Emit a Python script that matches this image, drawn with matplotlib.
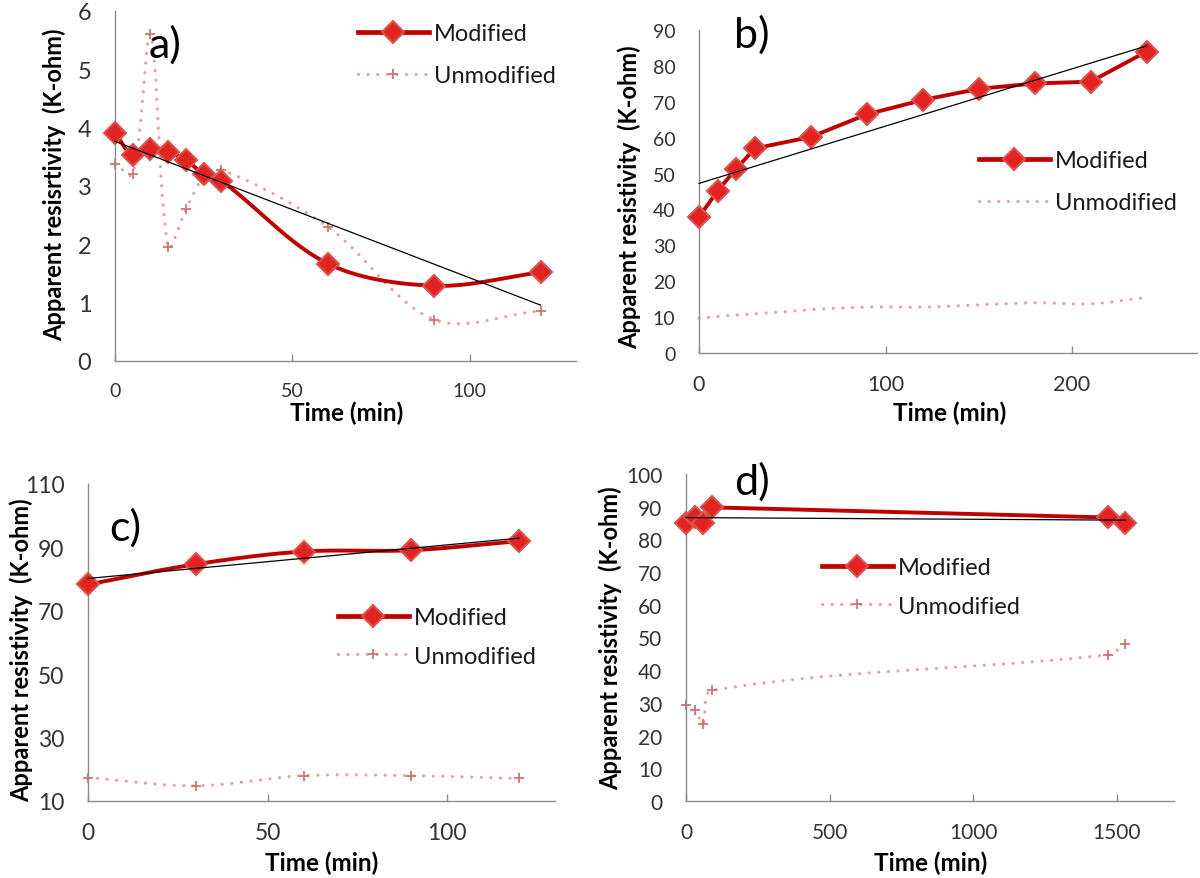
import numpy as np
import matplotlib
matplotlib.use("Agg")
import matplotlib.pyplot as plt
from matplotlib.lines import Line2D

plt.rcParams['font.family'] = ['Lato', 'DejaVu Sans']

# ---------------- data ----------------
a_time = [0, 5, 10, 15, 20, 25, 30, 60, 90, 120]
a_mod = [3.91, 3.53, 3.64, 3.58, 3.44, 3.21, 3.09, 1.67, 1.29, 1.52]
a_unmod = [3.38, 3.2, 5.6, 1.95, 2.6, 3.15, 3.28, 2.3, 0.71, 0.86]

b_time = [0, 10, 20, 30, 60, 90, 120, 150, 180, 210, 240]
b_mod = [37.9, 45.2, 51.4, 57.0, 60.2, 66.5, 70.5, 73.6, 75.1, 75.6, 84.0]
b_unmod = [9.7, 10.2, 10.6, 10.9, 12.1, 12.8, 12.8, 13.4, 14.0, 13.7, 15.5]

c_time = [0, 30, 60, 90, 120]
c_mod = [78.3, 84.7, 88.7, 89.1, 92.0]
c_unmod = [17.4, 14.8, 18.0, 18.0, 17.1]

d_time = [0, 30, 60, 90, 1470, 1530]
d_mod = [85.0, 86.9, 85.0, 89.8, 86.7, 85.0]
d_unmod = [29.4, 27.8, 23.7, 33.8, 44.7, 48.0]

panel_labels = ['a)', 'b)', 'c)', 'd)']
ylabels = ['Apparent resisrtivity  (K-ohm)', 'Apparent resistivity  (K-ohm)',
           'Apparent resistivity  (K-ohm)', 'Apparent resistivity  (K-ohm)']
xlabel = 'Time (min)'
series_names = ['Modified', 'Unmodified']

W, H = 1200, 879
fig = plt.figure(figsize=(W / 100, H / 100), dpi=100)


def fx(px):
    return px / W


def fy(py):
    return 1 - py / H


def add_axes(l, t, r, b):
    return fig.add_axes([fx(l), fy(b), (r - l) / W, (b - t) / H])


MOD_LINE = '#C00000'
MOD_FACE = '#E32322'
MOD_EDGE = '#D9534F'
UN_LINE = '#E6A0A0'
UN_MARK = '#CF7474'
DOT = (0, (0.01, 3.0))


def smooth(ax, x, y, n=40):
    pts = ax.transData.transform(np.column_stack([x, y]))
    P = np.vstack([pts[0], pts, pts[-1]])
    out = []
    t = np.linspace(0, 1, n)[:, None]
    for i in range(1, len(P) - 2):
        p0, p1, p2, p3 = P[i - 1], P[i], P[i + 1], P[i + 2]
        d01 = np.linalg.norm(p1 - p0)
        d12 = np.linalg.norm(p2 - p1)
        d23 = np.linalg.norm(p3 - p2)
        f1 = d12 / (d01 + d12) if d01 + d12 > 0 else 0.5
        f2 = d12 / (d12 + d23) if d12 + d23 > 0 else 0.5
        c1 = p1 + (p2 - p0) * f1 / 3.0
        c2 = p2 - (p3 - p1) * f2 / 3.0
        seg = (1 - t) ** 3 * p1 + 3 * (1 - t) ** 2 * t * c1 + 3 * (1 - t) * t ** 2 * c2 + t ** 3 * p2
        out.append(seg if i == 1 else seg[1:])
    arr = np.vstack(out)
    d = ax.transData.inverted().transform(arr)
    return d[:, 0], d[:, 1]


def style_axes(ax, xlim, ylim, xticks, yticks, xfs, yfs):
    ax.set_xlim(*xlim)
    ax.set_ylim(*ylim)
    ax.set_xticks(xticks)
    ax.set_yticks(yticks)
    for s in ['top', 'right']:
        ax.spines[s].set_visible(False)
    for s in ['left', 'bottom']:
        ax.spines[s].set_color('#8C8C8C')
        ax.spines[s].set_linewidth(1.0)
    ax.tick_params(axis='x', direction='in', length=5, width=1, color='#8C8C8C',
                   pad=15, labelsize=xfs, labelcolor='#333333')
    ax.tick_params(axis='y', length=0, pad=17, labelsize=yfs, labelcolor='#333333')
    ax.patch.set_alpha(0)


MS = 11


def draw_panel(ax, t, mod, unmod, smooth_mod, smooth_un, un_marker):
    # modified
    if smooth_mod:
        sx, sy = smooth(ax, t, mod)
        ax.plot(sx, sy, color=MOD_LINE, lw=2.8, solid_capstyle='round', zorder=3, clip_on=False)
    else:
        ax.plot(t, mod, color=MOD_LINE, lw=2.8, solid_joinstyle='round', zorder=3, clip_on=False)
    ax.plot(t, mod, ls='none', marker='D', ms=MS, mfc=MOD_FACE, mec=MOD_EDGE, mew=1.5,
            zorder=4, clip_on=False)
    # unmodified
    if smooth_un:
        sx, sy = smooth(ax, t, unmod)
    else:
        sx, sy = t, unmod
    ax.plot(sx, sy, color=UN_LINE, lw=2.3, ls=DOT, dash_capstyle='round', zorder=2, clip_on=False)
    if un_marker:
        ax.plot(t, unmod, ls='none', marker='+', ms=7, mew=1.3, color=UN_MARK, zorder=2.5,
                clip_on=False)
    # linear trend of modified
    k, b0 = np.polyfit(t, mod, 1)
    tt = np.array([min(t), max(t)])
    ax.plot(tt, k * tt + b0, color='black', lw=0.9, zorder=5, clip_on=False)


def add_legend(ax, left_px, top_px, fs, un_marker, spacing=0.85):
    h1 = Line2D([], [], color=MOD_LINE, lw=3.4, marker='D', ms=MS, mfc=MOD_FACE,
                mec=MOD_EDGE, mew=1.5)
    h2 = Line2D([], [], color=UN_LINE, lw=2.3, ls=DOT, dash_capstyle='round',
                marker='+' if un_marker else None, ms=7, mew=1.3, mec=UN_MARK)
    ax.legend([h1, h2], series_names, loc='upper left',
              bbox_to_anchor=(fx(left_px), fy(top_px)), bbox_transform=fig.transFigure,
              frameon=False, borderpad=0, borderaxespad=0, handlelength=3.0,
              handletextpad=0.2, labelspacing=spacing, fontsize=fs, numpoints=1,
              labelcolor='#1a1a1a')


def labels(ax, ylab, ylx, yly, xlx, xly, letter, lx, ly, lfs=31):
    fig.text(fx(ylx), fy(yly), ylab, rotation=90, ha='center', va='center',
             fontsize=17, fontweight='bold', color='black')
    fig.text(fx(xlx), fy(xly), xlabel, ha='center', va='center',
             fontsize=17.5, fontweight='bold', color='black')
    fig.text(fx(lx), fy(ly), letter, ha='center', va='center', fontsize=lfs, color='black')


# ---------------- panel a ----------------
axA = add_axes(115, 12, 576, 362)
style_axes(axA, (0, 130), (0, 6), [0, 50, 100], np.arange(0, 7, 1), 14, 17)
draw_panel(axA, a_time, a_mod, a_unmod, True, True, True)
add_legend(axA, 358, 24, 17, True, 0.9)
labels(axA, ylabels[0], 54, 185, 347, 413, panel_labels[0], 165, 45)

# ---------------- panel b ----------------
axB = add_axes(699, 31, 1197, 354)
style_axes(axB, (0, 267), (0, 90), [0, 100, 200], np.arange(0, 91, 10), 15.5, 14)
draw_panel(axB, b_time, b_mod, b_unmod, False, True, False)
add_legend(axB, 979, 151, 17, False, 0.9)
labels(axB, ylabels[1], 629, 197, 950, 413, panel_labels[1], 752, 35)

# ---------------- panel c ----------------
axC = add_axes(88, 485, 555, 802)
style_axes(axC, (0, 130), (10, 110), [0, 50, 100], np.arange(10, 111, 20), 16.5, 16.5)
draw_panel(axC, c_time, c_mod, c_unmod, True, True, True)
add_legend(axC, 338, 608, 17, True, 0.75)
labels(axC, ylabels[2], 21, 650, 322, 863, panel_labels[2], 125, 528)

# ---------------- panel d ----------------
axD = add_axes(686, 475, 1174, 802)
style_axes(axD, (0, 1700), (0, 100), [0, 500, 1000, 1500], np.arange(0, 101, 10), 15, 15)
draw_panel(axD, d_time, d_mod, d_unmod, False, True, True)
add_legend(axD, 822, 558, 17, True, 0.75)
labels(axD, ylabels[3], 610, 638, 931, 863, panel_labels[3], 752, 482)

fig.savefig('out.png', dpi=100)
